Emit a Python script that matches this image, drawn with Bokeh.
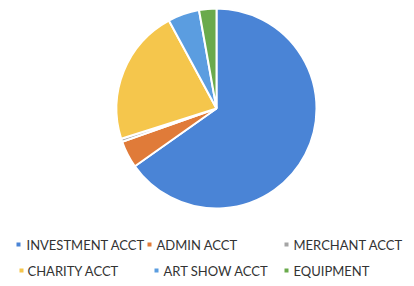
import numpy as np
from bokeh.plotting import figure
from bokeh.models import Range1d, ColumnDataSource
from bokeh.core.properties import value
from bokeh.embed import file_html
from bokeh.resources import INLINE

# ---- data ----
categories = ["INVESTMENT ACCT", "ADMIN ACCT", "MERCHANT ACCT",
              "CHARITY ACCT", "ART SHOW ACCT", "EQUIPMENT"]
shares = [65.2, 4.4, 0.5, 22.0, 5.1, 2.8]
colors = ["#4a84d6", "#e07b39", "#a5a5a5", "#f5c64c", "#5b9de0", "#6aaa4c"]

# ---- figure ----
W, H = 406, 278
p = figure(width=W, height=H, output_backend="svg", toolbar_location=None,
           x_range=Range1d(0, W), y_range=Range1d(286 - H, 286),
           min_border=0)
p.axis.visible = False
p.grid.visible = False
p.outline_line_color = None
p.background_fill_color = "white"
p.border_fill_color = "white"

# pie (coordinates: x = image x, y = 286 - image y)
cx, cy, r = 216, 286 - 108, 100
fr = np.array(shares) / sum(shares)
cum = np.concatenate([[0], np.cumsum(fr)])
start = np.pi / 2 - 2 * np.pi * cum[:-1]
end = np.pi / 2 - 2 * np.pi * cum[1:]
src = ColumnDataSource(dict(start=start, end=end, color=colors, cat=categories))
p.wedge(x=cx, y=cy, radius=r, start_angle="start", end_angle="end",
        direction="clock", fill_color="color", line_color="white",
        line_width=2, source=src)

# legend (manual, two rows)
mx = [18, 149, 286, 21, 156, 286]
tx = [26, 156, 293, 27, 163, 293]
ty = [286 - 244] * 3 + [286 - 270] * 3
p.scatter(x=mx, y=ty, marker="square", size=4, fill_color=colors, line_color=None)
p.text(x=tx, y=ty, text=categories, text_font=value("Lato"),
       text_font_size="13px", text_color="#333333", text_baseline="middle",
       text_align="left")

open("out.html", "w").write(file_html(p, INLINE))
